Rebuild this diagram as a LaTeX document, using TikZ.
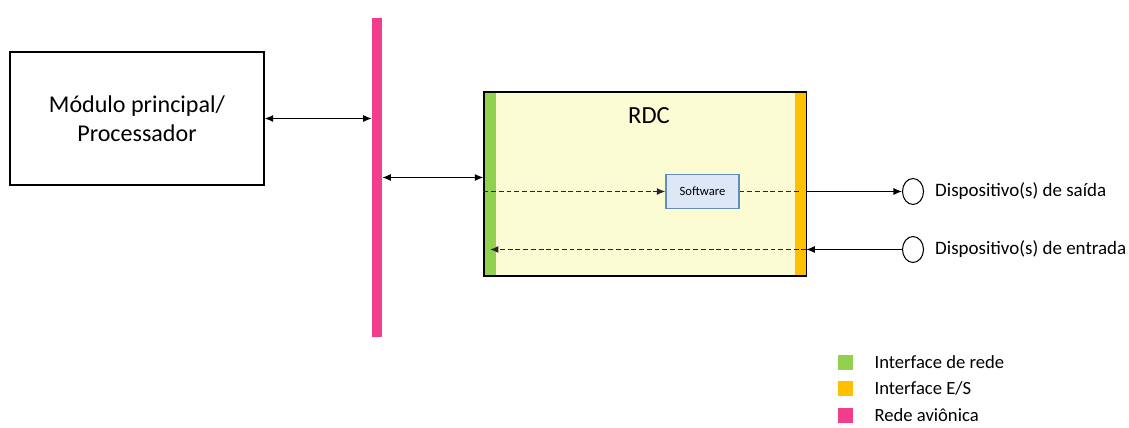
\documentclass[tikz,border=0pt]{standalone}
\usepackage{fontspec}
\setmainfont{Carlito}
\usepackage{xcolor}
\usepackage{tikz}
\usetikzlibrary{arrows.meta, positioning, shapes.geometric}
\definecolor{netgreen}{RGB}{146,208,80}
\definecolor{iogold}{RGB}{255,192,0}
\definecolor{buspink}{RGB}{242,60,140}
\definecolor{rdcyellow}{RGB}{252,252,212}
\definecolor{swblue}{RGB}{220,232,245}
\definecolor{swborder}{RGB}{100,140,190}

\begin{document}
\begin{tikzpicture}[
    x=0.02cm, y=-0.02cm,
    box/.style={draw, thick, inner sep=0pt, align=center},
    strip/.style={inner sep=0pt, minimum width=0.22cm, minimum height=3.66cm},
    device/.style={draw, semithick, ellipse, minimum width=0.42cm, minimum height=0.52cm, inner sep=0pt},
    legendsq/.style={inner sep=0pt, minimum size=0.3cm},
    label/.style={font=\fontsize{10.8}{12}\selectfont},
    legendlbl/.style={font=\fontsize{10.6}{12}\selectfont},
    arrow/.style={-{Latex[length=1.7mm, width=1.4mm]}, semithick},
    twoway/.style={{Latex[length=1.7mm, width=1.4mm]}-{Latex[length=1.7mm, width=1.4mm]}, semithick},
    dashes/.style={line width=0.85pt, dash pattern=on 2.8pt off 1.6pt, black!85}
]
    \useasboundingbox (0,0) rectangle (1129,428);

    % main module and avionics network
    \node[box, minimum width=5.08cm, minimum height=2.66cm, font=\fontsize{13.7}{16.4}\selectfont] (mod) at (137,118.5) {Módulo principal/\\Processador};
    \node[fill=buspink, inner sep=0pt, minimum width=0.2cm, minimum height=6.38cm] (bus) at (377,177.5) {};

    % remote data concentrator
    \node[box, fill=rdcyellow, minimum width=6.44cm, minimum height=3.68cm] (rdc) at (645,184) {};
    \node[strip, fill=netgreen] (netif) at (490.5,184) {};
    \node[strip, fill=iogold] (ioif) at (800.5,184) {};
    \draw[thick] (rdc.north west) rectangle (rdc.south east);
    \node[font=\fontsize{14}{16}\selectfont] (rdclbl) at (649,116) {RDC};
    \node[draw=swborder, semithick, fill=swblue, minimum width=1.46cm, minimum height=0.68cm, inner sep=0pt, font=\fontsize{7.2}{8}\selectfont] (sw) at (702.5,191.5) {Software};

    % devices
    \node[device] (out) at (913,191.5) {};
    \node[device] (in) at (913,249.5) {};
    \node[label, right=0.1cm of out] (outlbl) {Dispositivo(s) de saída};
    \node[label, right=0.1cm of in] (inlbl) {Dispositivo(s) de entrada};

    % connections
    \draw[twoway] (mod.east) -- (mod.east -| bus.west);
    \draw[twoway] (bus.east) -- (bus.east -| rdc.west);
    \draw[arrow, dashes] (sw -| rdc.west) -- (sw.west);
    \draw[dashes] (sw.east) -- (sw -| ioif.center);
    \draw[arrow] (sw -| ioif.east) -- (out.west);
    \draw[arrow] (in.west) -- (in -| ioif.east);
    \draw[arrow, dashes] (in -| ioif.east) -- ([xshift=3] in -| netif.west);

    % legend
    \node[legendsq, fill=netgreen] (lg1) at (845.5,362.5) {};
    \node[legendsq, fill=iogold] (lg2) at (845.5,388.5) {};
    \node[legendsq, fill=buspink] (lg3) at (845.5,415.5) {};
    \node[legendlbl, right=0.3cm of lg1] (lg1lbl) {Interface de rede};
    \node[legendlbl, right=0.3cm of lg2] (lg2lbl) {Interface E/S};
    \node[legendlbl, right=0.3cm of lg3] (lg3lbl) {Rede aviônica};
\end{tikzpicture}
\end{document}
